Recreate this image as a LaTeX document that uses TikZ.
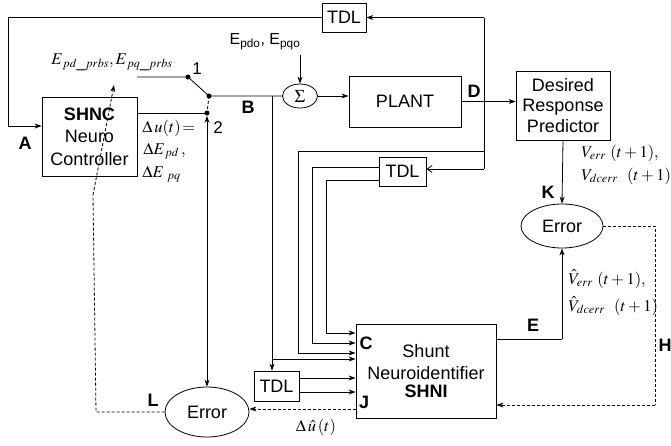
\documentclass[tikz,border=0pt]{standalone}
\usepackage{mathptmx}
\usepackage{fontspec}
\setmainfont{Liberation Sans}
\usetikzlibrary{shapes.geometric,arrows.meta}
\begin{document}
\begin{tikzpicture}[x=1pt,y=-1pt,
  >={Stealth[length=7pt,width=5pt]},
  every path/.style={line width=0.8pt},
  blk/.style={draw,rectangle,inner sep=0pt,align=center,font=\fontsize{18}{21}\selectfont},
  ell/.style={draw,ellipse,inner sep=0pt,font=\fontsize{18}{21}\selectfont},
  lbl/.style={font=\fontsize{18}{20}\selectfont\bfseries,inner sep=0pt},
  mlbl/.style={font=\fontsize{16.5}{18}\selectfont,inner sep=0pt},
  dot/.style={circle,fill,inner sep=0pt,minimum size=5pt},
  dsh/.style={dashed,dash pattern=on 3pt off 2pt}]
\useasboundingbox (0,0) rectangle (671,445);
% blocks
\node[blk,minimum width=44pt,minimum height=29pt] (tdltop) at (344,17.5) {TDL};
\node[blk,minimum width=95pt,minimum height=79pt,font=\fontsize{18}{22.5}\selectfont] (shnc) at (89.5,136.5) {\textbf{SHNC}\\Neuro\\Controller};
\node[ell,minimum width=35pt,minimum height=24pt] (sigma) at (300,96) {$\Sigma$};
\node[blk,minimum width=112pt,minimum height=51pt] (plant) at (405,101.5) {PLANT};
\node[blk,minimum width=94pt,minimum height=69pt,font=\fontsize{18}{20.5}\selectfont] (drp) at (563,105.5) {Desired\\Response\\Predictor};
\node[blk,minimum width=47pt,minimum height=29pt] (tdlmid) at (402.5,171.5) {TDL};
\node[ell,minimum width=82pt,minimum height=44pt] (rerr) at (562,226) {Error};
\node[blk,minimum width=140pt,minimum height=94pt,font=\fontsize{18}{22}\selectfont] (shni) at (426,371) {Shunt\\Neuroidentifier\\[-4pt]\textbf{SHNI}};
\node[blk,minimum width=45pt,minimum height=30pt] (tdlbot) at (276.5,386) {TDL};
\node[ell,minimum width=84pt,minimum height=50pt] (lerr) at (207,412) {Error};
% switch points
\node[dot] (s1) at (188,77) {};
\node[dot] (sw) at (209,96) {};
\node[dot] (s2) at (207,113) {};
\coordinate (prbsend) at (137,77);
% coordinates
\coordinate (Dtop) at (484,17.5);
\coordinate (Dmid) at (484,151);
\coordinate (Dlow) at (484,169);
\coordinate (Ltop) at (8,17.5);
\coordinate (Lbot) at (8,126);
\coordinate (Bj) at (272,96);
\coordinate (Bj2) at (272,359);
\coordinate (o1) at (298,151);
\coordinate (o2) at (298,353);
\coordinate (m1) at (312,167);
\coordinate (m2) at (312,343);
\coordinate (n1) at (326,180);
\coordinate (n2) at (326,333);
\coordinate (Eo) at (562,339);
\coordinate (H1) at (655,226);
\coordinate (H2) at (655,405);
\coordinate (Lc1) at (96,412);
\coordinate (Lc2) at (93,195);
\coordinate (Ltip) at (114,85);
\coordinate (du) at (356,409);
% labels
\node[mlbl] (prbs) at (112,62) {$E_{\,pd\_prbs}, E_{\,pq\_prbs}$};
\node[font=\fontsize{16}{18}\selectfont,inner sep=0pt] (epdo) at (265,42) {E\textsubscript{pdo}, E\textsubscript{pqo}};
\coordinate (epdoarr) at (300,55);
\node[font=\fontsize{17}{18}\selectfont,inner sep=0pt] (n1l) at (197,69) {1};
\node[font=\fontsize{17}{18}\selectfont,inner sep=0pt] (n2l) at (218,128) {2};
\node[lbl] (lA) at (25,143) {A};
\node[lbl] (lB) at (248,107) {B};
\node[lbl] (lD) at (474,91) {D};
\node[lbl] (lK) at (548,192) {K};
\node[lbl] (lE) at (533,325) {E};
\node[lbl] (lH) at (665,345) {H};
\node[lbl] (lL) at (153,400) {L};
\node[lbl] (lC) at (366,343) {C};
\node[lbl] (lJ) at (364,402) {J};
\node[mlbl,anchor=west] (du1) at (142,128) {$\Delta\,u(t)\!=$};
\node[mlbl,anchor=west] (du2) at (143,151) {$\Delta E_{\,pd}\,,$};
\node[mlbl,anchor=west] (du3) at (142,174) {$\Delta E_{\ pq}$};
\node[mlbl,anchor=west] (v1) at (581,153) {$V_{err}\ (t+1),$};
\node[mlbl,anchor=west] (v2) at (581,176) {$V_{dcerr}\ \ (t+1)$};
\node[mlbl,anchor=west] (vh1) at (568,279) {$\hat V_{err}\ (t+1),$};
\node[mlbl,anchor=west] (vh2) at (568,306) {$\hat V_{dcerr}\ \ (t+1)$};
\node[mlbl] (duh) at (316,427) {$\Delta\,\hat u\,(t)$};
% connectors
\draw[->] (Dtop) -- (tdltop.east);
\draw (tdltop.west) -- (Ltop) -- (Lbot);
\draw[->] (Lbot) -- (shnc.west |- Lbot);
\draw (Dtop) -- (Dlow);
\draw[-{Straight Barb[length=5pt,width=7pt]}] (Dlow) -- (tdlmid.east |- Dlow);
\draw (Dmid) -- (o1);
\draw (o1) -- (o2);
\draw[->] (o2) -- (shni.west |- o2);
\draw (tdlmid.west |- m1) -- (m1) -- (m2);
\draw[->] (m2) -- (shni.west |- m2);
\draw (tdlmid.west |- n1) -- (n1) -- (n2);
\draw[->] (n2) -- (shni.west |- n2);
\draw (prbsend) -- (s1.center) -- (sw.center) -- (sigma.west);
\draw (Bj) -- (Bj2);
\draw[->] (Bj2) -- (shni.west |- Bj2);
\draw[->] (Bj2) -- (tdlbot.north -| Bj2);
\draw[->] (tdlbot.east |- 0,378) -- (shni.west |- 0,378);
\draw[->] (tdlbot.east |- 0,392) -- (shni.west |- 0,392);
\draw (shnc.east |- s2) -- (s2.center);
\draw[dsh] (sw.center) -- (s2.center);
\draw[<->] (s2.south) -- (lerr.north);
\draw[->] (epdoarr) -- (sigma.north);
\draw[->] (sigma.east) -- (plant.west |- sigma.east);
\draw[->] (plant.east) -- (drp.west |- plant.east);
\draw[->] (drp.south) -- (rerr.north);
\draw (shni.east |- Eo) -- (Eo);
\draw[->] (Eo) -- (rerr.south);
\draw[dsh] (rerr.east) -- (H1) -- (H2);
\draw[dsh,->] (H2) -- (shni.east |- H2);
\draw[dsh,->] (shni.west |- du) -- (lerr.east |- du);
\draw[dsh] (lerr.west) -- (Lc1) -- (Lc2);
\draw[dsh,->] (Lc2) -- (Ltip);
\end{tikzpicture}
\end{document}
